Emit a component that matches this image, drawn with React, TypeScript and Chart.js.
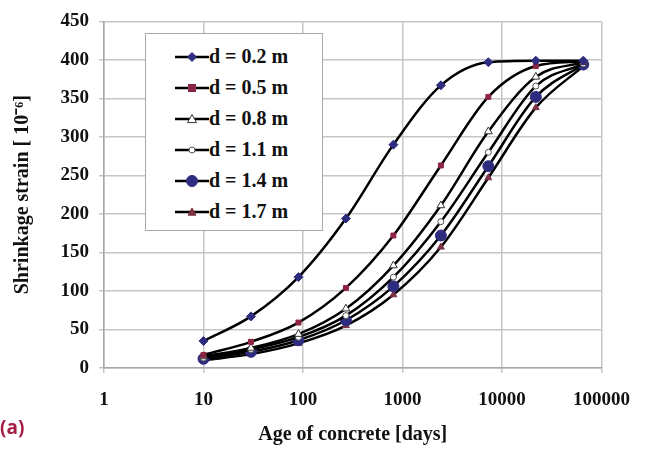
import React, { useEffect, useRef } from "react";
import { Chart, registerables } from "chart.js";

Chart.register(...registerables);

// ---- data ----
const ages = [10, 30, 90, 270, 810, 2430, 7290, 21870, 65610];
const d02 = [35, 67, 118, 194, 290, 367, 397, 399, 399];
const d05 = [17, 34, 59, 104, 172, 263, 352, 392, 398];
const d08 = [15, 26, 44, 77, 133, 211, 307, 378, 397];
const d11 = [13, 24, 40, 68, 118, 190, 280, 366, 395];
const d14 = [12, 21, 36, 62, 106, 172, 262, 352, 394];
const d17 = [10, 18, 32, 55, 95, 157, 247, 338, 392];
const seriesLabels = ["d = 0.2 m", "d = 0.5 m", "d = 0.8 m", "d = 1.1 m", "d = 1.4 m", "d = 1.7 m"];
const xTickValues = [1, 10, 100, 1000, 10000, 100000];
const yTickValues = [0, 50, 100, 150, 200, 250, 300, 350, 400, 450];
const xTitle = "Age of concrete [days]";
const yTitle = "Shrinkage strain [ 10\u207B\u2076]";
const panelLabel = "(a)";

// ---- styles ----
const seriesValues = [d02, d05, d08, d11, d14, d17];
const markerStyles = [
  { shape: "rectRot", fill: "#2e2c7e", stroke: "#2e2c7e", r: 4.5 },
  { shape: "rect", fill: "#8e2443", stroke: "#8e2443", r: 3.5 },
  { shape: "triangle", fill: "#ffffff", stroke: "#333333", r: 4.5 },
  { shape: "circle", fill: "#ffffff", stroke: "#555555", r: 3 },
  { shape: "circle", fill: "#2e2c7e", stroke: "#2e2c7e", r: 5.5 },
  { shape: "triangle", fill: "#7c3444", stroke: "#7c3444", r: 4 },
];
const serif = "'Liberation Serif', 'Times New Roman', serif";

function LegendIcon({ idx }: { idx: number }) {
  const m = markerStyles[idx];
  const cx = 17, cy = 7;
  let shape: React.ReactNode = null;
  if (m.shape === "rectRot") {
    shape = <polygon points={`${cx},${cy - m.r} ${cx + m.r},${cy} ${cx},${cy + m.r} ${cx - m.r},${cy}`} fill={m.fill} stroke={m.stroke} />;
  } else if (m.shape === "rect") {
    shape = <rect x={cx - m.r} y={cy - m.r} width={m.r * 2} height={m.r * 2} fill={m.fill} stroke={m.stroke} />;
  } else if (m.shape === "triangle") {
    shape = <polygon points={`${cx},${cy - m.r} ${cx + m.r},${cy + m.r * 0.8} ${cx - m.r},${cy + m.r * 0.8}`} fill={m.fill} stroke={m.stroke} />;
  } else {
    shape = <circle cx={cx} cy={cy} r={m.r} fill={m.fill} stroke={m.stroke} />;
  }
  return (
    <svg width={34} height={14} style={{ display: "block" }}>
      <line x1={0} y1={cy} x2={34} y2={cy} stroke="#000" strokeWidth={2.5} />
      {shape}
    </svg>
  );
}

export default function App() {
  const canvasRef = useRef<HTMLCanvasElement | null>(null);

  useEffect(() => {
    const canvas = canvasRef.current;
    if (!canvas) return;
    const datasets = seriesValues.map((vals, i) => ({
      label: seriesLabels[i],
      data: ages.map((a, j) => ({ x: a, y: vals[j] })),
      borderColor: "#000000",
      borderWidth: 2.5,
      cubicInterpolationMode: "monotone" as const,
      pointStyle: markerStyles[i].shape as any,
      pointRadius: markerStyles[i].r,
      pointBackgroundColor: markerStyles[i].fill,
      pointBorderColor: markerStyles[i].stroke,
      pointBorderWidth: 1,
      fill: false,
    }));
    const chart = new Chart(canvas, {
      type: "line",
      data: { datasets },
      options: {
        animation: false,
        responsive: false,
        devicePixelRatio: 1,
        layout: { padding: { left: 0, right: 33, top: 17, bottom: 0 } },
        plugins: { legend: { display: false }, tooltip: { enabled: false } },
        scales: {
          x: {
            type: "logarithmic",
            min: 1,
            max: 100000,
            afterBuildTicks: (s: any) => {
              s.ticks = xTickValues.map((v) => ({ value: v }));
            },
            afterFit: (s: any) => {
              s.height = 83;
            },
            ticks: {
              autoSkip: false,
              maxRotation: 0,
              padding: 16,
              color: "#111",
              font: { family: serif, size: 19, weight: "bold" },
              callback: (v: any) => String(v),
            },
            grid: { color: "#c6c6c6", lineWidth: 1.5, tickLength: 5 },
            border: { color: "#a8a8a8", width: 1.5 },
            title: {
              display: true,
              text: xTitle,
              color: "#111",
              font: { family: serif, size: 20, weight: "bold" },
              padding: { top: 0, bottom: 4 },
            },
          },
          y: {
            type: "linear",
            min: 0,
            max: 450,
            afterBuildTicks: (s: any) => {
              s.ticks = yTickValues.map((v) => ({ value: v }));
            },
            afterFit: (s: any) => {
              s.width = 104;
            },
            ticks: {
              padding: 10,
              color: "#111",
              font: { family: serif, size: 19, weight: "bold" },
            },
            grid: { color: "#c6c6c6", lineWidth: 1.5, tickLength: 5 },
            border: { color: "#a8a8a8", width: 1.5 },
            title: {
              display: true,
              text: yTitle,
              color: "#111",
              font: { family: serif, size: 20, weight: "bold" },
              padding: { top: 11, bottom: 0 },
            },
          },
        },
      },
    });
    return () => chart.destroy();
  }, []);

  return (
    <div style={{ position: "fixed", left: 0, top: 0, width: 646, height: 451, background: "#fff" }}>
      <canvas ref={canvasRef} width={646} height={451} style={{ position: "absolute", left: 0, top: 0 }} />
      <div
        style={{
          position: "absolute",
          left: 145,
          top: 33,
          width: 176,
          height: 189,
          border: "1px solid #a8a8a8",
          background: "#fff",
          paddingTop: 7,
          boxSizing: "content-box",
        }}
      >
        {seriesLabels.map((lab, i) => (
          <div key={lab} style={{ height: 31, display: "flex", alignItems: "center" }}>
            <div style={{ marginLeft: 29, width: 34 }}>
              <LegendIcon idx={i} />
            </div>
            <span style={{ fontFamily: serif, fontWeight: "bold", fontSize: 20, color: "#111", whiteSpace: "nowrap" }}>
              {lab}
            </span>
          </div>
        ))}
      </div>
      <div
        style={{
          position: "absolute",
          left: 0,
          top: 414,
          fontFamily: "'Open Sans', sans-serif",
          fontWeight: 700,
          fontSize: 19,
          color: "#a51d42",
        }}
      >
        {panelLabel}
      </div>
    </div>
  );
}
